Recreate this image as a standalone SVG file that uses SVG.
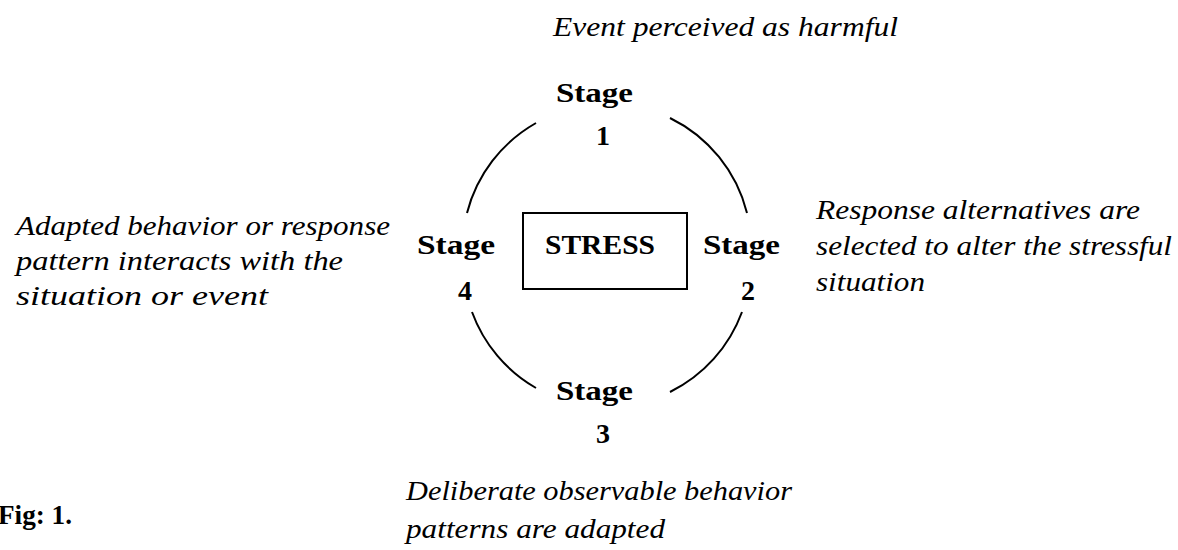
<svg xmlns="http://www.w3.org/2000/svg" width="1178" height="550" viewBox="0 0 1178 550">
<style>
.it{font-family:"Liberation Serif","DejaVu Serif",serif;font-style:italic;font-size:28px;fill:#000}
.bd{font-family:"Liberation Serif","DejaVu Serif",serif;font-weight:bold;font-size:28px;fill:#000}
.arc{fill:none;stroke:#000;stroke-width:2}
.box{fill:#fff;stroke:#000;stroke-width:2}
</style>
<rect width="1178" height="550" fill="#fff"/>
<g id="connectors">
<path class="arc" d="M467,213 A145,145 0 0 1 536,123"/>
<path class="arc" d="M670,118 A145,145 0 0 1 747,213"/>
<path class="arc" d="M742,312 A145,145 0 0 1 670,392"/>
<path class="arc" d="M536,388 A145,145 0 0 1 472,312"/>
</g>
<g id="stress">
<rect class="box" x="523" y="213" width="164" height="76"/>
<text class="bd" x="545" y="254" textLength="110" lengthAdjust="spacingAndGlyphs">STRESS</text>
</g>
<g id="stage1">
<text class="bd" x="556" y="102" textLength="77" lengthAdjust="spacingAndGlyphs">Stage</text>
<text class="bd" x="603" y="145" text-anchor="middle">1</text>
</g>
<g id="stage2">
<text class="bd" x="703" y="254" textLength="77" lengthAdjust="spacingAndGlyphs">Stage</text>
<text class="bd" x="748" y="300" text-anchor="middle">2</text>
</g>
<g id="stage3">
<text class="bd" x="556" y="400" textLength="77" lengthAdjust="spacingAndGlyphs">Stage</text>
<text class="bd" x="603" y="443" text-anchor="middle">3</text>
</g>
<g id="stage4">
<text class="bd" x="417" y="254" textLength="78" lengthAdjust="spacingAndGlyphs">Stage</text>
<text class="bd" x="465" y="300" text-anchor="middle">4</text>
</g>
<g id="label1">
<text class="it" x="553" y="36" textLength="345" lengthAdjust="spacingAndGlyphs">Event perceived as harmful</text>
</g>
<g id="label2">
<text class="it" x="816" y="219" textLength="324" lengthAdjust="spacingAndGlyphs">Response alternatives are</text>
<text class="it" x="816" y="255" textLength="356" lengthAdjust="spacingAndGlyphs">selected to alter the stressful</text>
<text class="it" x="816" y="291" textLength="109" lengthAdjust="spacingAndGlyphs">situation</text>
</g>
<g id="label3">
<text class="it" x="406" y="500" textLength="386" lengthAdjust="spacingAndGlyphs">Deliberate observable behavior</text>
<text class="it" x="406" y="538" textLength="259" lengthAdjust="spacingAndGlyphs">patterns are adapted</text>
</g>
<g id="label4">
<text class="it" x="16" y="235" textLength="374" lengthAdjust="spacingAndGlyphs">Adapted behavior or response</text>
<text class="it" x="16" y="270" textLength="327" lengthAdjust="spacingAndGlyphs">pattern interacts with the</text>
<text class="it" x="16" y="305" textLength="252" lengthAdjust="spacingAndGlyphs">situation or event</text>
</g>
<g id="caption">
<text class="bd" x="-2" y="524" textLength="74" lengthAdjust="spacingAndGlyphs">Fig: 1.</text>
</g>
</svg>
